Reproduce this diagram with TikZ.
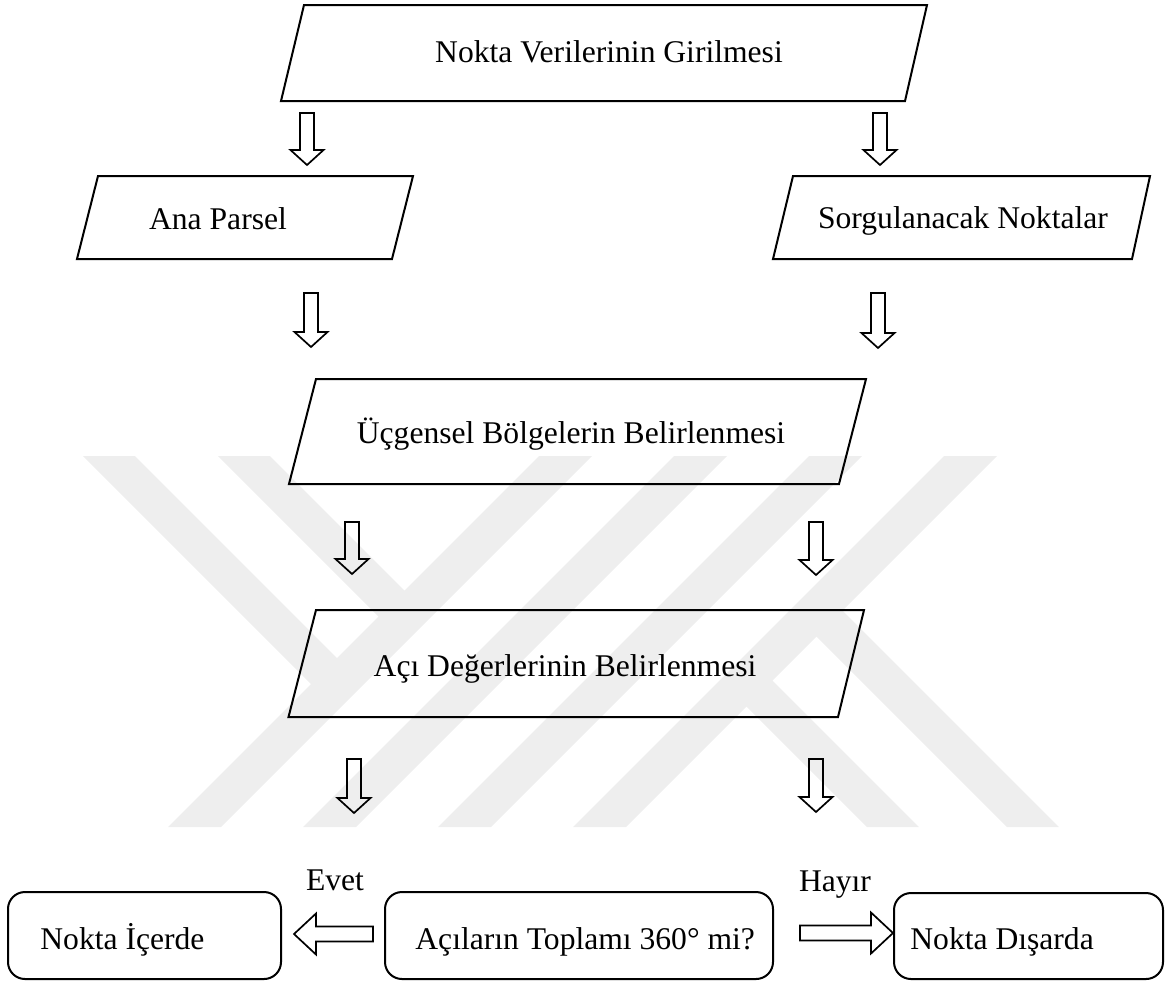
\documentclass[tikz,border=0pt]{standalone}
\usepackage{fontspec}
\setmainfont{Liberation Serif}
\usetikzlibrary{calc}
\definecolor{wmgray}{RGB}{238,238,238}
\tikzset{
  pbox/.style={draw=black, line width=1pt, line join=miter},
  rbox/.style={draw=black, line width=1pt, rounded corners=8.5pt, inner sep=0pt},
  lbl/.style={font=\fontsize{15.8}{19}\selectfont, inner sep=0pt},
  fat/.style={draw=black, line width=0.85pt, line join=miter}
}
% hollow block arrow: #1 start of shaft, #2 tip, #3 shaft half width,
% #4 head half width, #5 head length
\newcommand\blockarrow[5]{%
  \coordinate (#1-#2-b) at ($(#2)!#5!(#1)$);
  \draw[fat] ($(#1)!#3!90:(#2)$) -- ($(#1-#2-b)!#3!90:(#2)$)
    -- ($(#1-#2-b)!#4!90:(#2)$) -- (#2) -- ($(#1-#2-b)!#4!-90:(#2)$)
    -- ($(#1-#2-b)!#3!-90:(#2)$) -- ($(#1)!#3!-90:(#2)$) -- cycle;
}
\newcommand\downarrowblk[2]{\blockarrow{#1}{#2}{3.5pt}{8.25pt}{7.5pt}}
\newcommand\sidearrowblk[2]{\blockarrow{#1}{#2}{3.75pt}{10.25pt}{11pt}}

\begin{document}
\begin{tikzpicture}[x=0.5pt,y=-0.5pt]
\useasboundingbox (0,0) rectangle (1166,981);

% faint background emblem
\begin{scope}
  \clip (0,456) rectangle (1166,827);
  \foreach \c in {995,1130,1265,1400} {
    \fill[wmgray] (\c-456,456) -- (\c+53-456,456) -- (\c+53-827,827) -- (\c-827,827) -- cycle;
  }
  \fill[wmgray] (83,456) -- (135,456) -- (349.5,670.5) -- (323.5,696.5) -- cycle;
  \fill[wmgray] (218,456) -- (270,456) -- (417,603) -- (391,629) -- cycle;
  \fill[wmgray] (732.5,692.5) -- (758.5,666.5) -- (919,827) -- (867,827) -- cycle;
  \fill[wmgray] (802.5,622.5) -- (828.5,596.5) -- (1059,827) -- (1007,827) -- cycle;
\end{scope}

% input / process boxes
\draw[pbox] (304,5) -- (927,5) -- (905,101) -- (281,101) -- cycle;
\node[lbl, anchor=base] (inp) at (609,62) {Nokta Verilerinin Girilmesi};

\draw[pbox] (98,176) -- (413,176) -- (392,259) -- (77,259) -- cycle;
\node[lbl, anchor=base] (parsel) at (218,229) {Ana Parsel};

\draw[pbox] (793,176) -- (1150,176) -- (1132,259) -- (773,259) -- cycle;
\node[lbl, anchor=base] (sorgu) at (963,228.5) {Sorgulanacak Noktalar};

\draw[pbox] (316,379) -- (866,379) -- (839,484) -- (289,484) -- cycle;
\node[lbl, anchor=base] (ucgen) at (571,443) {Üçgensel Bölgelerin Belirlenmesi};

\draw[pbox] (316,610) -- (864,610) -- (838,717) -- (288.5,717) -- cycle;
\node[lbl, anchor=base] (aci) at (565,676) {Açı Değerlerinin Belirlenmesi};

% decision and results
\node[rbox, minimum width=136.5pt, minimum height=43.5pt] (icerde) at (144.5,935.5) {};
\node[lbl, anchor=base west] (icerdeT) at (40,949) {Nokta İçerde};

\node[rbox, minimum width=194pt, minimum height=43.5pt] (karar) at (579,935.5) {};
\node[lbl, anchor=base west] (kararT) at (415,949) {Açıların Toplamı 360° mi?};

\node[rbox, minimum width=134.5pt, minimum height=43pt] (disarda) at (1028.5,936) {};
\node[lbl, anchor=base west] (disardaT) at (910,949) {Nokta Dışarda};

\node[lbl, anchor=base] (evet) at (335,890) {Evet};
\node[lbl, anchor=base] (hayir) at (835,891) {Hayır};

% arrow end points
\coordinate (a1s) at (307,113); \coordinate (a1t) at (307,165);
\coordinate (a2s) at (880,113); \coordinate (a2t) at (880,165);
\coordinate (a3s) at (311,293); \coordinate (a3t) at (311,347);
\coordinate (a4s) at (878,293); \coordinate (a4t) at (878,348);
\coordinate (a5s) at (352,522); \coordinate (a5t) at (352,574);
\coordinate (a6s) at (816,522); \coordinate (a6t) at (816,575);
\coordinate (a7s) at (354,759); \coordinate (a7t) at (354,813);
\coordinate (a8s) at (816,759); \coordinate (a8t) at (816,812);
\coordinate (evs) at (373,934); \coordinate (evt) at (294,934);
\coordinate (has) at (800,933); \coordinate (hat) at (893,933);

\downarrowblk{a1s}{a1t}
\downarrowblk{a2s}{a2t}
\downarrowblk{a3s}{a3t}
\downarrowblk{a4s}{a4t}
\downarrowblk{a5s}{a5t}
\downarrowblk{a6s}{a6t}
\downarrowblk{a7s}{a7t}
\downarrowblk{a8s}{a8t}
\sidearrowblk{evs}{evt}
\sidearrowblk{has}{hat}
\end{tikzpicture}
\end{document}
